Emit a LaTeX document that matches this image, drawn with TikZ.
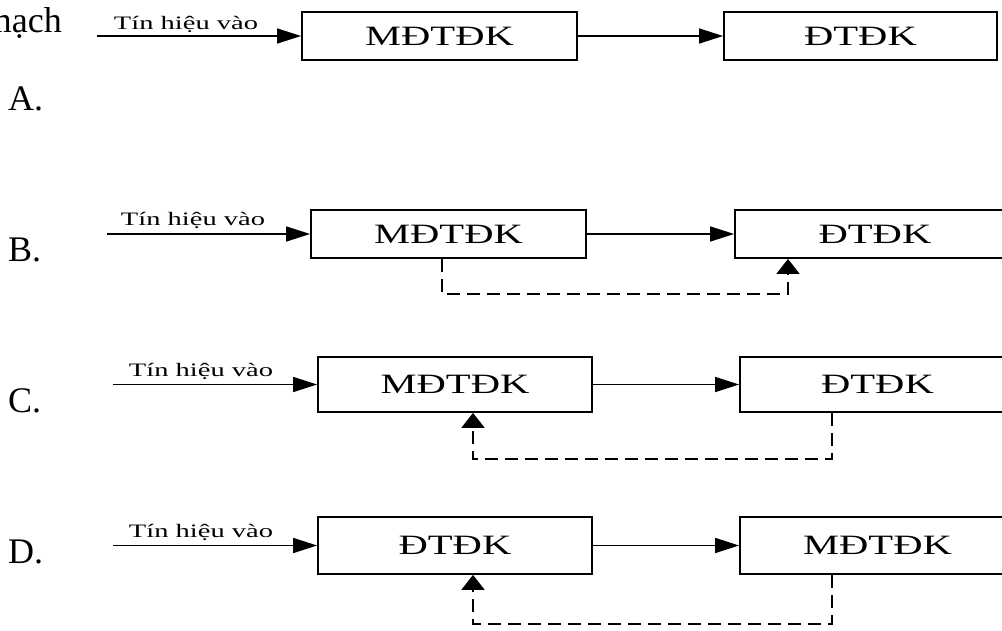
\documentclass[tikz,border=0pt]{standalone}
\usepackage{fontspec}
\setmainfont{Liberation Serif}
\usetikzlibrary{arrows.meta}
\newcommand{\xs}[1]{\scalebox{1.45}[1]{#1}}
\newcommand{\xl}[1]{\scalebox{1.5}[1]{#1}}
\begin{document}
\begin{tikzpicture}[x=1pt,y=-1pt,
  blk/.style={draw=black,line width=1.8pt,inner sep=0pt,font=\fontsize{28}{28}\selectfont},
  sigline/.style={line width=1.5pt,-{Triangle[length=24pt,width=15pt]}},
  fb/.style={line width=2pt,dash pattern=on 13pt off 7pt,-{Triangle[length=15pt,width=23pt]}},
  lbl/.style={anchor=base,inner sep=0pt,font=\fontsize{19}{19}\selectfont},
  opt/.style={anchor=base west,inner sep=0pt,font=\fontsize{36}{36}\selectfont}]
\useasboundingbox (0,0) rectangle (1002,631);
\fill[white] (0,0) rectangle (1002,631);

% option letters
\node[anchor=base east,inner sep=0pt,font=\fontsize{36}{36}\selectfont] (mach) at (62,33) {mạch};
\node[opt] (oA) at (8,111) {A.};
\node[opt] (oB) at (8,262) {B.};
\node[opt] (oC) at (8,412) {C.};
\node[opt] (oD) at (8,563) {D.};

% Row A
\node[blk,minimum width=275pt,minimum height=48pt] (a1) at (439.5,36) {\xs{MĐTĐK}};
\node[blk,minimum width=273pt,minimum height=48pt] (a2) at (860.5,36) {\xs{ĐTĐK}};
\coordinate (ainp) at (97,36);
\node[lbl] (alab) at (186,30) {\xl{Tín hiệu vào}};
\draw[sigline] (ainp) -- (a1.west);
\draw[sigline] (a1.east) -- (a2.west);

% Row B
\node[blk,minimum width=275pt,minimum height=48pt] (b1) at (448.5,234) {\xs{MĐTĐK}};
\node[blk,minimum width=280pt,minimum height=48pt] (b2) at (875,234) {\xs{ĐTĐK}};
\coordinate (binp) at (107,234);
\node[lbl] (blab) at (193,226) {\xl{Tín hiệu vào}};
\draw[sigline] (binp) -- (b1.west);
\draw[sigline] (b1.east) -- (b2.west);
\draw[fb] ([xshift=-6.5pt]b1.south) -- ++(0,35) -| ([xshift=-87pt]b2.south);

% Row C
\node[blk,minimum width=274pt,minimum height=55pt] (c1) at (455,384.5) {\xs{MĐTĐK}};
\node[blk,minimum width=275pt,minimum height=55pt] (c2) at (877.5,384.5) {\xs{ĐTĐK}};
\coordinate (cinp) at (113,384.5);
\node[lbl] (clab) at (201,376) {\xl{Tín hiệu vào}};
\draw[sigline] (cinp) -- (c1.west);
\draw[sigline] (c1.east) -- (c2.west);
\draw[fb] ([xshift=-45.5pt]c2.south) -- ++(0,46) -| ([xshift=18pt]c1.south);

% Row D
\node[blk,minimum width=274pt,minimum height=57pt] (d1) at (455,545.5) {\xs{ĐTĐK}};
\node[blk,minimum width=275pt,minimum height=57pt] (d2) at (877.5,545.5) {\xs{MĐTĐK}};
\coordinate (dinp) at (113,545.5);
\node[lbl] (dlab) at (201,537) {\xl{Tín hiệu vào}};
\draw[sigline] (dinp) -- (d1.west);
\draw[sigline] (d1.east) -- (d2.west);
\draw[fb] ([xshift=-45.5pt]d2.south) -- ++(0,49) -| ([xshift=18pt]d1.south);
\end{tikzpicture}
\end{document}
